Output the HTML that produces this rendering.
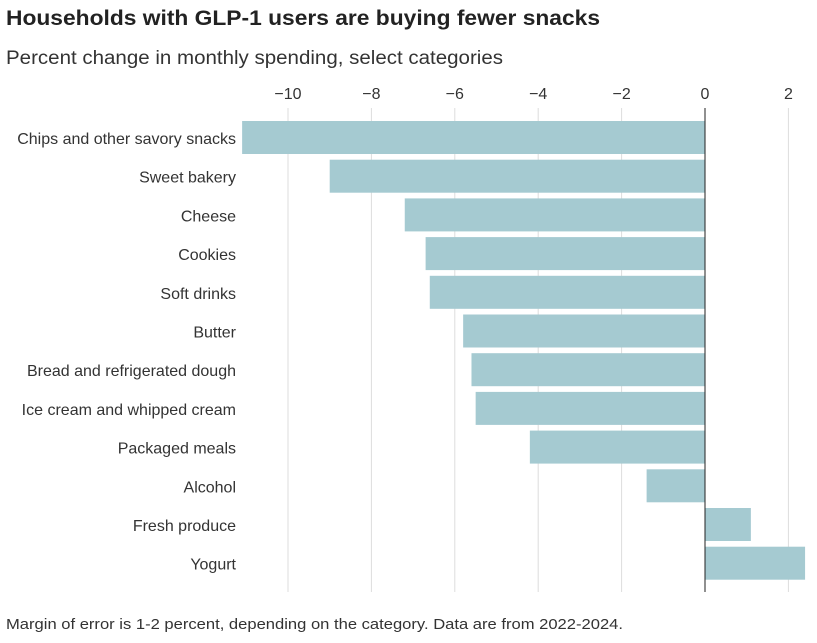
<!DOCTYPE html>
<html><head><meta charset="utf-8"><style>
body{margin:0;background:#fff;font-family:"Liberation Sans",sans-serif;}
</style></head><body>
<svg width="817" height="638" xmlns="http://www.w3.org/2000/svg">
<text x="6" y="25" font-size="21" font-weight="bold" fill="#222" textLength="594" lengthAdjust="spacingAndGlyphs">Households with GLP-1 users are buying fewer snacks</text>
<text x="6" y="64" font-size="19" fill="#333" textLength="497" lengthAdjust="spacingAndGlyphs">Percent change in monthly spending, select categories</text>
<g id="grid"></g><g id="bars"></g><g id="labels"></g>
<line x1="705" x2="705" y1="108" y2="592" stroke="#222" stroke-width="1"/>
<text x="6" y="629" font-size="15" fill="#333" textLength="617" lengthAdjust="spacingAndGlyphs">Margin of error is 1-2 percent, depending on the category. Data are from 2022-2024.</text>
</svg>
<script>
const categories=["Chips and other savory snacks","Sweet bakery","Cheese","Cookies","Soft drinks","Butter","Bread and refrigerated dough","Ice cream and whipped cream","Packaged meals","Alcohol","Fresh produce","Yogurt"];
const values=[-11.1,-9.0,-7.2,-6.7,-6.6,-5.8,-5.6,-5.5,-4.2,-1.4,1.1,2.4];
const ticks=[-10,-8,-6,-4,-2,0,2];
const tickLabels=["\u221210","\u22128","\u22126","\u22124","\u22122","0","2"];
const NS="http://www.w3.org/2000/svg";
const x=v=>705+v*41.7;
const y=i=>121+i*38.7;
const g=document.getElementById('grid'),b=document.getElementById('bars'),l=document.getElementById('labels');
ticks.forEach((t,i)=>{
 if(t!==0){const ln=document.createElementNS(NS,'line');
 ln.setAttribute('x1',x(t));ln.setAttribute('x2',x(t));ln.setAttribute('y1',108);ln.setAttribute('y2',592);ln.setAttribute('stroke','#ddd');
 
 
 g.appendChild(ln);}
 const tx=document.createElementNS(NS,'text');
 tx.setAttribute('x',x(t));tx.setAttribute('y',99);tx.setAttribute('text-anchor','middle');tx.setAttribute('font-size','16');tx.setAttribute('fill','#333');
 tx.textContent=tickLabels[i];
 
 
 g.appendChild(tx);
});
categories.forEach((c,i)=>{
 const v=values[i];const r=document.createElementNS(NS,'rect');
 r.setAttribute('x',Math.min(x(0),x(v)));r.setAttribute('width',Math.abs(x(v)-x(0)));
 r.setAttribute('y',y(i));r.setAttribute('height',33);r.setAttribute('fill','#a5cad1');
 
 
 b.appendChild(r);
 const t=document.createElementNS(NS,'text');
 t.setAttribute('x',236);t.setAttribute('y',y(i)+23);t.setAttribute('text-anchor','end');t.setAttribute('font-size','16');t.setAttribute('fill','#333');
 t.textContent=c;
 
 
 l.appendChild(t);
});
</script>
</body></html>
